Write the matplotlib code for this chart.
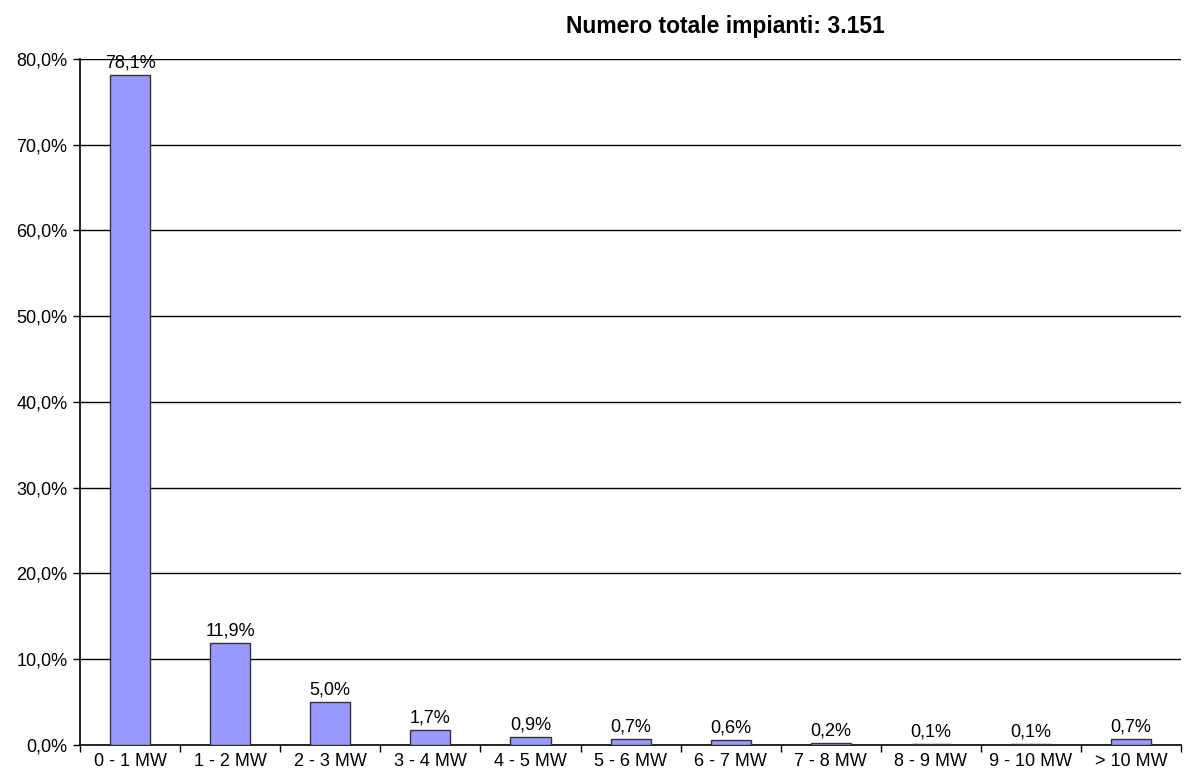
import matplotlib
matplotlib.use("Agg")
import matplotlib.pyplot as plt
import numpy as np

categories = ["0 - 1 MW", "1 - 2 MW", "2 - 3 MW", "3 - 4 MW", "4 - 5 MW", "5 - 6 MW",
              "6 - 7 MW", "7 - 8 MW", "8 - 9 MW", "9 - 10 MW", "> 10 MW"]
values = [78.1, 11.9, 5.0, 1.7, 0.9, 0.7, 0.6, 0.2, 0.1, 0.1, 0.7]
yticks = [0, 10, 20, 30, 40, 50, 60, 70, 80]
title = "Numero totale impianti: 3.151"

plt.rcParams['font.family'] = ['Liberation Sans', 'DejaVu Sans']

fig = plt.figure(figsize=(11.84, 7.74), dpi=100)
ax = fig.add_axes([0.0676, 0.0375, 0.93, 0.8863])

x = np.arange(len(categories))
ax.bar(x, values, width=0.4, color="#9999FF", edgecolor="#333333", linewidth=1, zorder=3)

for xi, v in zip(x, values):
    ax.text(xi, v + 0.4, ("%.1f%%" % v).replace(".", ","), ha="center", va="bottom", fontsize=13)

ax.set_xlim(-0.5, len(categories) - 0.5)
ax.set_ylim(0, 80)
ax.set_yticks(yticks)
ax.set_yticklabels([("%.1f%%" % t).replace(".", ",") for t in yticks])
for t in yticks[1:]:
    ax.axhline(t, color="black", linewidth=1, zorder=1)

ax.set_xticks(x)
ax.set_xticklabels(categories)
ax.tick_params(axis="x", which="major", length=0, pad=6, labelsize=13)
ax.set_xticks(np.arange(-0.5, len(categories), 1.0), minor=True)
ax.tick_params(axis="x", which="minor", length=5, width=1, direction="out")
ax.tick_params(axis="y", length=5, width=1, direction="out", pad=4, labelsize=13)

for s in ["top", "right"]:
    ax.spines[s].set_visible(False)
ax.spines["left"].set_linewidth(1.2)
ax.spines["bottom"].set_linewidth(1.2)

fig.text(0.613, 0.966, title, ha="center", va="center", fontsize=16.5, fontweight="bold")

fig.savefig("out.png", dpi=100)
